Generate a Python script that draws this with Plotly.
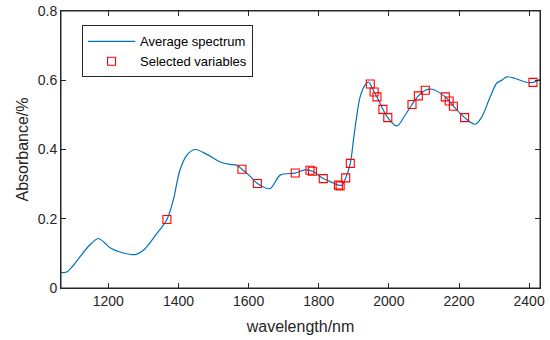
import plotly.graph_objects as go

wavelength = [1065, 1081, 1100, 1119, 1145, 1171, 1190, 1205, 1233, 1276, 1300, 1338, 1367,
              1385, 1404, 1424, 1447, 1481, 1519, 1547, 1566, 1581, 1604, 1625, 1661, 1690,
              1733, 1761, 1782, 1813, 1840, 1856, 1866, 1877, 1890, 1899, 1904, 1918, 1932,
              1942, 1947, 1958, 1966, 1983, 1997, 2023, 2046, 2066, 2084, 2104, 2123, 2161,
              2172, 2184, 2216, 2246, 2265, 2289, 2308, 2322, 2336, 2360, 2389, 2411, 2431]
absorbance = [0.045, 0.046, 0.065, 0.090, 0.122, 0.143, 0.130, 0.116, 0.104, 0.0965, 0.109,
              0.157, 0.198, 0.253, 0.340, 0.384, 0.400, 0.386, 0.364, 0.357, 0.355, 0.343,
              0.323, 0.302, 0.287, 0.326, 0.332, 0.341, 0.337, 0.316, 0.304, 0.297, 0.297,
              0.318, 0.360, 0.427, 0.465, 0.552, 0.586, 0.595, 0.589, 0.566, 0.552, 0.516,
              0.492, 0.468, 0.499, 0.530, 0.555, 0.571, 0.574, 0.552, 0.540, 0.525, 0.492,
              0.473, 0.494, 0.552, 0.592, 0.600, 0.610, 0.605, 0.595, 0.594, 0.603]

# Selected variables
sel_wavelength = [1367, 1581, 1625, 1733, 1775, 1782, 1813, 1856, 1861, 1877, 1890, 1947,
                  1958, 1966, 1983, 1997, 2066, 2084, 2104, 2161, 2172, 2184, 2216, 2411]
sel_absorbance = [0.198, 0.343, 0.302, 0.332, 0.340, 0.337, 0.316, 0.297, 0.295, 0.318,
                  0.360, 0.589, 0.566, 0.552, 0.516, 0.492, 0.530, 0.555, 0.571, 0.552,
                  0.540, 0.525, 0.492, 0.594]

x_ticks = [1200, 1400, 1600, 1800, 2000, 2200, 2400]
y_ticks = [0, 0.2, 0.4, 0.6, 0.8]
y_ticklabels = ["0", "0.2", "0.4", "0.6", "0.8"]

font_family = "Arial, Liberation Sans, Helvetica, sans-serif"
axis_color = "#262626"

fig = go.Figure()
fig.add_trace(go.Scatter(
    x=wavelength, y=absorbance, mode="lines", name="Average spectrum",
    line=dict(color="#0072BD", width=1.2, shape="spline", smoothing=0.9),
))
fig.add_trace(go.Scatter(
    x=sel_wavelength, y=sel_absorbance, mode="markers", name="Selected variables",
    marker=dict(symbol="square-open", size=8, color="#FF0000", line=dict(width=1.1, color="#FF0000")),
))

axis_common = dict(
    showgrid=False, zeroline=False, showline=True, linecolor=axis_color, linewidth=1,
    mirror="allticks", ticks="inside", ticklen=5, tickcolor=axis_color, tickwidth=1,
    tickfont=dict(family=font_family, size=14, color=axis_color),
)

fig.update_xaxes(range=[1065, 2431], tickvals=x_ticks,
                 title=dict(text="wavelength/nm", font=dict(family=font_family, size=16, color=axis_color), standoff=13),
                 **axis_common)
fig.update_yaxes(range=[0, 0.8], tickvals=y_ticks, ticktext=y_ticklabels,
                 title=dict(text="Absorbance/%", font=dict(family=font_family, size=16, color=axis_color), standoff=5),
                 **axis_common)

# plot-area frame (MATLAB style box)
fig.add_shape(type="rect", xref="paper", yref="paper", x0=0, y0=0, x1=1, y1=1,
              line=dict(color=axis_color, width=1), fillcolor="rgba(0,0,0,0)", layer="above")

fig.update_layout(
    width=550, height=340,
    margin=dict(l=61, r=10, t=11, b=52, autoexpand=False),
    plot_bgcolor="white", paper_bgcolor="white",
    hovermode=False, dragmode=False,
    legend=dict(x=0.044, y=0.948, xanchor="left", yanchor="top",
                bgcolor="white", bordercolor=axis_color, borderwidth=1,
                font=dict(family=font_family, size=13, color="black"),
                itemwidth=47, tracegroupgap=0),
    showlegend=True,
)

fig.write_html("out.html", config={"displayModeBar": False, "staticPlot": True},
               post_script="document.body.style.margin='0';")
